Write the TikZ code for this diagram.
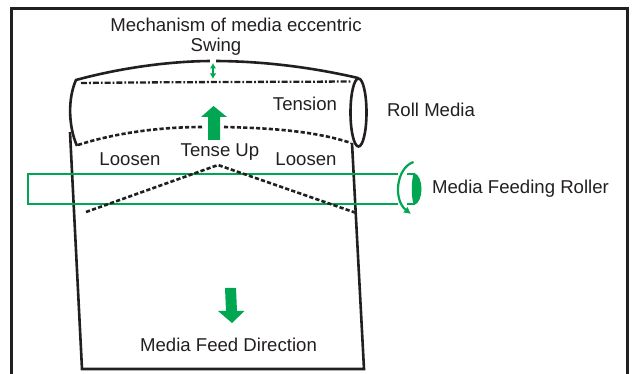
\documentclass[tikz,border=0pt]{standalone}
\usepackage{fontspec}
\setmainfont{Liberation Sans}
\usetikzlibrary{arrows.meta}
\definecolor{ink}{HTML}{231F20}
\definecolor{grn}{HTML}{00A651}
\tikzset{
  lbl/.style={text=ink,inner sep=0pt,font=\fontsize{18.6}{20}\selectfont},
  outline/.style={draw=ink,line width=2.6pt,line join=miter},
  frameline/.style={draw=ink,line width=3pt},
  dashline/.style={draw=ink,line width=2.6pt,dash pattern=on 4.2pt off 2.2pt},
  dotdash/.style={draw=ink,line width=2.3pt,dash pattern=on 6pt off 2pt on 1.8pt off 2pt},
  grnline/.style={draw=grn,line width=2.4pt},
}
\begin{document}
\begin{tikzpicture}[x=1pt,y=-1pt]
\useasboundingbox (0,0) rectangle (635,374);
% frame
\draw[frameline] (11,374) -- (11,9) -- (627,9) -- (627,374);
% media outline
\draw[outline] (77,146) .. controls (68,125) and (68,98) .. (76,80)
  .. controls (120,68) and (170,61) .. (213,61)
  .. controls (265,61) and (315,68) .. (358,78);
\draw[outline] (358.5,112.5) ellipse [x radius=8, y radius=34];
\draw[outline] (70,132) -- (82,369) -- (364,369) -- (352,143);
% small swing arrow with gap in the curve
\fill[white] (210,57) rectangle (216,65);
\draw[grn,line width=1.4pt,{Latex[length=5.5pt,width=6.5pt]}-{Latex[length=5.5pt,width=6.5pt]}] (213,63) -- (213,79);
% tension lines
\draw[dotdash] (81,83) .. controls (170,82) and (260,82) .. (352,81.5);
\draw[dashline] (78,145) .. controls (115,133) and (160,127) .. (202,127);
\draw[dashline] (224,127) .. controls (270,128) and (315,131) .. (351,143);
% green roller
\draw[grnline] (398,174) -- (28,174) -- (28,204) -- (398,204);
\draw[grnline] (407,174) -- (414,174);
\draw[grnline] (407,204) -- (414,204);
\fill[grn] (414,172.8) .. controls (424,176) and (424,202) .. (414,205.2)
  .. controls (411,198) and (411,180) .. (414,172.8) -- cycle;
\draw[grn,line width=2.2pt,-{Latex[length=7pt,width=7.5pt]}] (413.5,162) .. controls (396,168) and (393,200) .. (411,214);
% chevron
\draw[dashline] (86,212) -- (218,165) -- (355,212.5);
% big arrows
\fill[grn] (213.5,106) -- (227,117) -- (220,117) -- (220,140) -- (208,140) -- (208,117) -- (201,117) -- cycle;
\fill[grn] (225,288) -- (236,288) -- (237,311) -- (244.5,311) -- (232,323) -- (218,311) -- (226,311) -- cycle;
% labels
\node[lbl] (title) at (236,25) {Mechanism of media eccentric};
\node[lbl] (swing) at (216,46.5) {Swing};
\node[lbl] (tension) at (305,104) {Tension};
\node[lbl] (roll) at (431,109.5) {Roll Media};
\node[lbl] (loosenl) at (130,159) {Loosen};
\node[lbl] (tense) at (220,152) {Tense Up};
\node[lbl] (loosenr) at (306,159) {Loosen};
\node[lbl] (feedroller) at (520.5,188.5) {Media Feeding Roller};
\node[lbl] (feed) at (228.5,345) {Media Feed Direction};
\end{tikzpicture}
\end{document}
